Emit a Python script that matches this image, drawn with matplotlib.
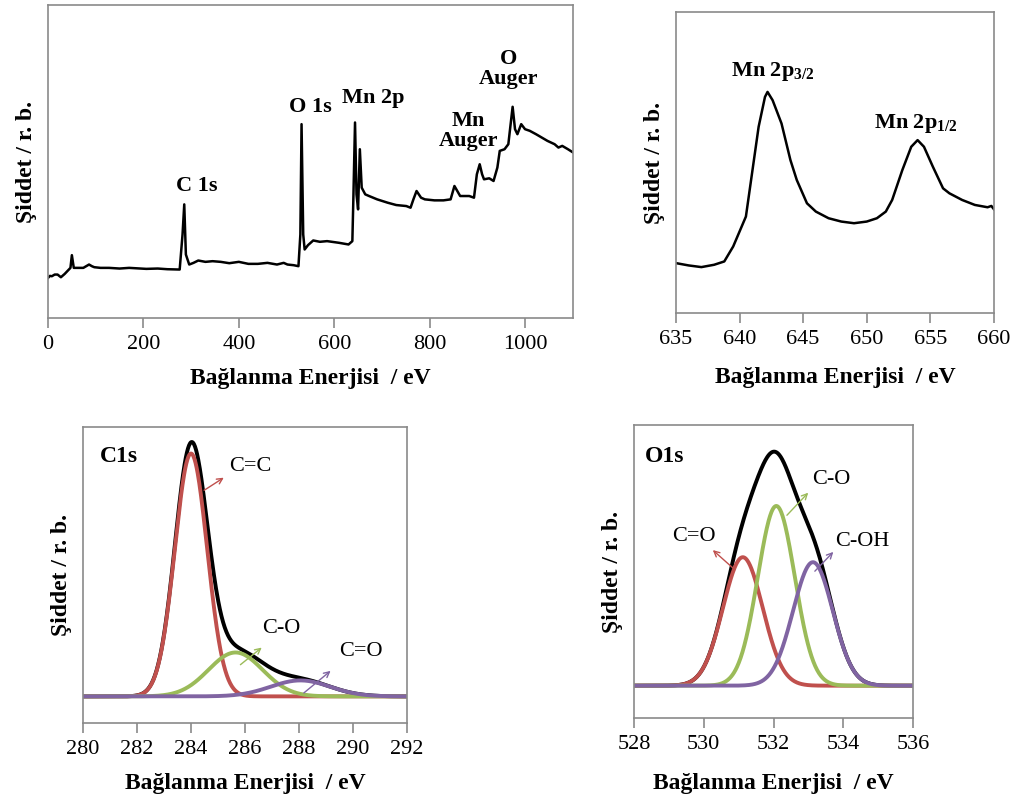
import numpy as np
import matplotlib
matplotlib.use("Agg")
import matplotlib.pyplot as plt

plt.rcParams['font.family'] = ['Liberation Serif', 'DejaVu Serif']
plt.rcParams['mathtext.fontset'] = 'custom'
plt.rcParams['mathtext.rm'] = 'Liberation Serif:bold'
plt.rcParams['mathtext.it'] = 'Liberation Serif:bold'
plt.rcParams['mathtext.bf'] = 'Liberation Serif:bold'

# ------------------- Survey spectrum -------------------
survey_ev = [0, 4, 8, 14, 20, 27, 35, 47, 50, 54, 60, 74, 80, 86, 92, 97, 110, 128, 150,
             170, 206, 230, 250, 276, 282, 285.6, 289, 296, 305, 315, 330, 345, 362, 380,
             400, 420, 440, 460, 480, 494, 502, 515, 525, 529, 531.5, 535, 538, 545,
             556, 570, 585, 595, 610, 630, 638,
             640, 643.6, 646.7, 650, 653.7, 657.6, 665, 673, 690, 712, 730, 751, 760, 766,
             772.6, 782, 790, 810, 829, 844, 852, 864, 883, 893, 899, 905, 910, 914, 925,
             934, 942, 947, 957, 965, 969, 974, 979, 984, 992, 1000, 1010, 1023, 1035, 1047,
             1062, 1070, 1078, 1090, 1101]
survey_val = [120, 126, 125, 130, 130, 122, 132, 150, 188, 150, 150, 150, 155, 160, 155, 152,
              150, 150, 148, 150, 147, 148, 146, 145, 250, 340, 190, 160, 165, 172, 168, 170,
              168, 164, 168, 162, 162, 165, 160, 165, 160, 158, 155, 250, 580, 250, 205,
              218, 232, 228, 230, 228, 225, 220, 230,
              350, 585, 370, 325, 505, 390, 370, 365, 355, 345, 338, 335, 330, 355, 380,
              360, 355, 352, 352, 355, 395, 365, 365, 360, 430, 460, 430, 415, 418, 410,
              450, 500, 505, 520, 570, 632, 565, 550, 580, 565, 560, 550, 540, 530, 520,
              510, 515, 505, 495]
survey_labels = ["C 1s", "O 1s", "Mn 2p", "Mn\nAuger", "O\nAuger"]
survey_label_pos = [(311, 395), (549, 632), (682, 658), (882, 560), (965, 745)]

# ------------------- Mn 2p region -------------------
mn_ev = [635, 636, 637, 638, 638.8, 639.5, 640.5, 641.5, 642, 642.2, 642.6, 643.3, 644,
         644.5, 645.3, 646, 647, 648, 649, 650, 650.8, 651.5, 652, 652.8, 653.5, 654,
         654.5, 655.2, 656, 656.5, 657.5, 658.5, 659.5, 659.8, 660]
mn_val = [150, 143, 138, 145, 155, 200, 290, 560, 650, 665, 640, 570, 460,
          400, 330, 305, 285, 275, 270, 275, 285, 305, 340, 430, 500, 520,
          500, 440, 375, 360, 340, 325, 318, 322, 312]
mn_labels = [r"Mn 2p$_{3/2}$", r"Mn 2p$_{1/2}$"]
mn_label_pos = [(642.6, 725), (653.9, 570)]

# ------------------- C1s fit components -------------------
c1s_names = ["C=C", "C-O", "C=O"]
c1s_center = [284.0, 285.65, 288.05]
c1s_height = [730, 132, 48]
c1s_sigma = [0.60, 1.0, 1.1]
c1s_text_pos = [(286.2, 690), (287.35, 205), (290.3, 135)]
c1s_arrow_tail = [(284.4, 615), (285.75, 90), (288.1, 5)]
c1s_arrow_head = [(285.3, 662), (286.7, 152), (289.25, 82)]

# ------------------- O1s fit components -------------------
o1s_names = ["C=O", "C-O", "C-OH"]
o1s_center = [531.12, 532.08, 533.13]
o1s_height = [386, 540, 371]
o1s_sigma = [0.57, 0.53, 0.57]
o1s_text_pos = [(529.72, 448), (533.65, 620), (534.55, 433)]
o1s_arrow_tail = [(530.95, 343), (532.33, 506), (533.13, 338)]
o1s_arrow_head = [(530.2, 413), (533.05, 586), (533.77, 408)]

comp_colors = ["#C0504D", "#9BBB59", "#8064A2"]

xlabel = "Bağlanma Enerjisi  / eV"
ylabel = "Şiddet / r. b."


def style_axes(ax):
    for s in ax.spines.values():
        s.set_color("#8a8a8a")
        s.set_linewidth(1.2)
    ax.set_yticks([])
    ax.tick_params(axis="x", direction="out", length=7, width=1.2, color="#8a8a8a",
                   labelsize=16, pad=5)
    ax.set_xlabel(xlabel, fontsize=17, fontweight="bold", labelpad=13)
    ax.set_ylabel(ylabel, fontsize=17, fontweight="bold", labelpad=8)


def gauss(x, c, h, s):
    return h * np.exp(-(x - c) ** 2 / (2 * s ** 2))


fig = plt.figure(figsize=(10.11, 7.98), dpi=100)

# ------------------- Survey -------------------
ax1 = fig.add_axes([0.0475, 0.6015, 0.519, 0.392])
ax1.plot(survey_ev, survey_val, color="black", lw=1.8)
ax1.set_xlim(0, 1100)
ax1.set_ylim(0, 936)
ax1.set_xticks([0, 200, 400, 600, 800, 1000])
for lab, (x, y) in zip(survey_labels, survey_label_pos):
    ax1.text(x, y, lab, ha="center", va="center", fontsize=16, fontweight="bold",
             linespacing=1.0)
style_axes(ax1)
ax1.set_xlabel(xlabel, fontsize=17, fontweight="bold", labelpad=10)

# ------------------- Mn 2p -------------------
ax2 = fig.add_axes([0.6686, 0.6078, 0.3145, 0.377])
ax2.plot(mn_ev, mn_val, color="black", lw=1.8)
ax2.set_xlim(635, 660)
ax2.set_ylim(0, 905)
ax2.set_xticks([635, 640, 645, 650, 655, 660])
for lab, (x, y) in zip(mn_labels, mn_label_pos):
    ax2.text(x, y, lab, ha="center", va="center", fontsize=16, fontweight="bold")
style_axes(ax2)

# ------------------- C1s -------------------
ax3 = fig.add_axes([0.0821, 0.094, 0.3205, 0.371])
xc = np.linspace(280, 292, 600)
comps = [gauss(xc, c, h, s) for c, h, s in zip(c1s_center, c1s_height, c1s_sigma)]
ax3.plot(xc, np.sum(comps, axis=0), color="black", lw=2.8)
for yv, col in zip(comps, comp_colors):
    ax3.plot(xc, yv, color=col, lw=2.8)
for name, tp, tail, head, col in zip(c1s_names, c1s_text_pos, c1s_arrow_tail,
                                     c1s_arrow_head, comp_colors):
    ax3.annotate("", xy=head, xytext=tail,
                 arrowprops=dict(arrowstyle="->", color=col, lw=1.0))
    ax3.text(tp[0], tp[1], name, ha="center", va="center", fontsize=16)
ax3.text(280.64, 720, "C1s", ha="left", va="center", fontsize=17, fontweight="bold")
ax3.set_xlim(280, 292)
ax3.set_ylim(-80, 810)
ax3.set_xticks(range(280, 293, 2))
style_axes(ax3)
ax3.set_xlabel(xlabel, fontsize=17, fontweight="bold", labelpad=10)

# ------------------- O1s -------------------
ax4 = fig.add_axes([0.6271, 0.1003, 0.276, 0.367])
xo = np.linspace(528, 536, 600)
comps = [gauss(xo, c, h, s) for c, h, s in zip(o1s_center, o1s_height, o1s_sigma)]
ax4.plot(xo, np.sum(comps, axis=0), color="black", lw=2.8)
for yv, col in zip(comps, comp_colors):
    ax4.plot(xo, yv, color=col, lw=2.8)
for name, tp, tail, head, col in zip(o1s_names, o1s_text_pos, o1s_arrow_tail,
                                     o1s_arrow_head, comp_colors):
    ax4.annotate("", xy=head, xytext=tail,
                 arrowprops=dict(arrowstyle="->", color=col, lw=1.0))
    ax4.text(tp[0], tp[1], name, ha="center", va="center", fontsize=16)
ax4.text(528.3, 688, "O1s", ha="left", va="center", fontsize=17, fontweight="bold")
ax4.set_xlim(528, 536)
ax4.set_ylim(-97, 783)
ax4.set_xticks(range(528, 537, 2))
style_axes(ax4)
ax4.set_xlabel(xlabel, fontsize=17, fontweight="bold", labelpad=14)

fig.savefig("out.png", dpi=100)
